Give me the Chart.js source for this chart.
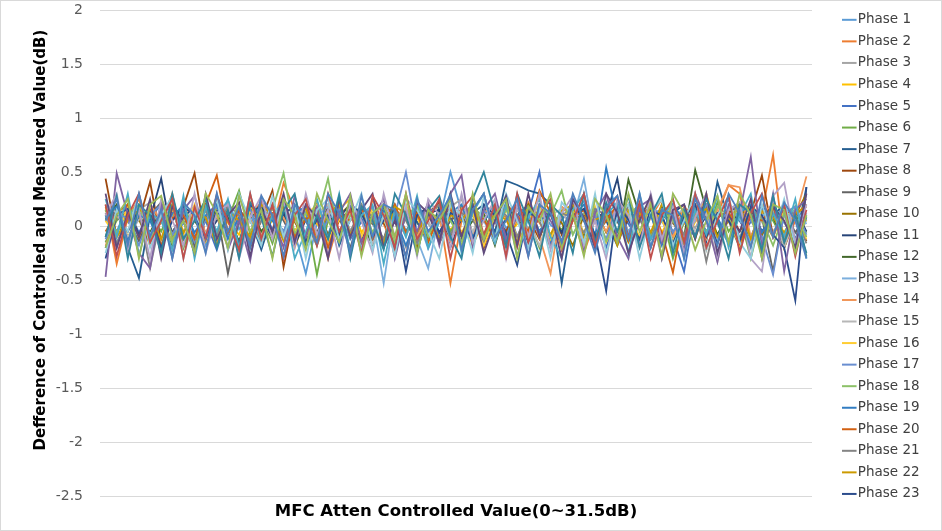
<!DOCTYPE html>
<html>
<head>
<meta charset="utf-8">
<script src="https://cdn.jsdelivr.net/npm/chart.js@4/dist/chart.umd.min.js"></script>
<style>
  html, body { margin: 0; padding: 0; background: #fff; }
  #wrap { width: 942px; height: 531px; }
</style>
</head>
<body>
<div id="wrap"><canvas id="chart" width="942" height="531"></canvas></div>
<script>
// x categories: attenuation steps 0 ~ 31.5 dB
const atten = ['0','0.5','1','1.5','2','2.5','3','3.5','4','4.5','5','5.5','6','6.5','7','7.5',
  '8','8.5','9','9.5','10','10.5','11','11.5','12','12.5','13','13.5','14','14.5','15','15.5',
  '16','16.5','17','17.5','18','18.5','19','19.5','20','20.5','21','21.5','22','22.5','23','23.5',
  '24','24.5','25','25.5','26','26.5','27','27.5','28','28.5','29','29.5','30','30.5','31','31.5'];

const yTicks = [2, 1.5, 1, 0.5, 0, -0.5, -1, -1.5, -2, -2.5];

// difference (dB) per phase
const phase1 = [0.12,-0.05,0.18,-0.12,0.06,0.21,-0.08,0.02,0.15,-0.18,0.09,0.24,-0.03,0.11,-0.14,0.07,
  0.19,-0.06,-0.44,0.03,0.14,-0.09,0.22,0.05,-0.17,0.08,0.16,-0.04,0.1,-0.21,0.04,0.5,
  0.13,-0.11,0.07,0.2,-0.02,0.09,-0.15,0.18,0.01,-0.07,0.12,0.23,-0.1,0.06,0.15,-0.05,
  0.08,0.19,-0.13,0.04,0.17,-0.08,0.1,0.02,-0.16,0.21,0.05,-0.09,0.14,0.03,-0.12,0.09];
const phase2 = [0.2,-0.35,0.08,0.25,-0.1,0.03,0.3,-0.2,0.12,0.05,-0.15,0.18,-0.25,0.1,0.22,-0.05,
  0.4,0.15,-0.12,0.2,-0.3,0.06,0.14,-0.18,0.25,0.02,-0.22,0.1,0.17,-0.08,0.12,-0.53,
  0.05,0.2,-0.1,0.15,0.08,-0.2,0.22,0.03,-0.12,0.18,0.1,-0.25,0.06,0.14,-0.05,0.2,
  -0.15,0.08,0.25,-0.1,0.02,0.16,-0.22,0.1,0.38,0.3,-0.18,0.12,0.66,-0.2,0.05,-0.1];
const phase3 = [-0.15,0.1,-0.05,0.15,0.22,-0.12,0.06,0.18,-0.2,0.08,0.13,-0.06,0.2,-0.15,0.04,0.11,
  -0.08,0.17,0.05,-0.18,0.1,0.2,-0.04,0.09,-0.12,0.15,0.06,-0.2,0.12,0.02,-0.1,0.18,
  0.25,-0.06,0.11,-0.15,0.07,0.19,-0.03,0.13,-0.18,0.05,0.21,-0.08,0.1,-0.14,0.16,0.03,
  -0.1,0.14,0.06,-0.2,0.12,-0.02,0.18,-0.12,0.08,0.1,-0.1,0.15,-0.05,0.1,-0.18,0.06];
const phase4 = [0.05,0.15,-0.1,0.08,-0.18,0.12,0.2,-0.05,0.1,-0.14,0.18,0.03,-0.08,0.22,-0.12,0.06,
  0.14,-0.2,0.09,0.02,-0.1,0.16,0.25,-0.06,0.1,-0.15,0.05,0.18,-0.12,0.08,0.2,-0.04,
  0.12,-0.18,0.06,0.15,-0.1,0.02,0.19,-0.08,0.14,-0.2,0.05,0.11,-0.12,0.18,0.07,-0.15,
  0.1,0.22,-0.06,0.13,-0.16,0.04,0.3,-0.1,0.08,0.16,-0.14,0.1,0.2,-0.08,0.12,0.05];
const phase5 = [0.1,-0.2,0.16,-0.06,0.13,-0.15,0.08,0.2,-0.1,0.05,-0.22,0.12,0.07,-0.14,0.18,-0.03,
  0.1,0.06,-0.16,0.14,-0.08,0.2,-0.12,0.04,0.17,-0.2,0.09,0.13,-0.06,0.2,-0.1,0.05,
  0.15,-0.14,0.08,-0.05,0.22,-0.1,0.12,0.5,-0.15,0.06,0.18,-0.08,0.1,-0.2,0.14,0.02,
  -0.12,0.2,0.07,-0.1,-0.42,0.15,-0.05,0.1,0.25,-0.12,0.04,0.18,-0.08,0.13,-0.15,0.08];
const phase6 = [-0.15,0.05,0.2,-0.1,0.12,-0.05,0.18,-0.2,0.08,0.14,-0.12,0.06,0.33,-0.08,0.1,-0.16,
  0.2,-0.05,0.12,-0.45,0.06,0.15,-0.1,0.2,-0.06,0.1,-0.18,0.14,0.03,-0.12,0.18,-0.05,
  0.1,0.2,-0.14,0.06,-0.08,0.15,0.08,-0.2,0.12,-0.04,0.18,-0.1,0.06,0.14,-0.15,0.09,
  0.2,-0.08,0.12,-0.3,0.05,0.16,-0.1,0.22,-0.05,0.1,-0.3,0.12,0.05,-0.15,0.18,-0.06];
const phase7 = [0.08,0.15,-0.2,-0.48,0.1,0.2,-0.06,0.12,-0.15,0.05,0.18,-0.1,0.14,0.06,-0.22,0.1,
  -0.05,0.16,-0.12,0.08,0.2,-0.18,0.06,0.12,-0.08,0.15,-0.2,0.1,0.04,-0.14,0.18,0.08,
  -0.1,0.12,0.2,-0.06,0.42,0.38,0.33,0.3,0.2,-0.53,0.1,-0.12,0.15,0.05,-0.18,0.12,
  0.08,-0.1,0.2,-0.06,0.12,0.16,-0.14,0.41,0.06,-0.12,0.18,-0.05,0.1,0.2,-0.15,0.36];
const phase8 = [0.44,-0.1,0.12,0.05,0.41,-0.15,0.08,0.18,0.49,-0.12,0.1,-0.05,0.15,-0.2,0.06,0.33,
  -0.38,0.12,-0.08,0.2,-0.12,0.05,0.15,-0.18,0.1,0.03,-0.14,0.18,-0.06,0.12,0.22,-0.1,
  0.06,0.14,-0.2,0.1,-0.05,0.16,0.08,-0.12,0.2,-0.08,0.12,0.05,-0.15,0.18,-0.1,0.06,
  0.15,-0.2,0.1,0.03,-0.12,0.2,0.08,-0.16,0.14,-0.05,0.12,0.47,-0.1,0.16,0.08,-0.14];
const phase9 = [-0.1,0.18,0.05,-0.14,0.1,0.22,-0.06,0.12,-0.18,0.08,0.14,-0.44,0.06,0.16,-0.1,0.2,
  0.05,-0.15,0.12,-0.06,0.18,0.08,-0.2,0.14,0.02,-0.12,0.2,-0.08,0.1,0.15,-0.16,0.06,
  0.12,-0.1,0.14,0.05,-0.18,0.1,0.2,-0.06,0.12,-0.14,0.08,0.16,-0.2,0.1,0.04,-0.12,
  0.18,-0.06,0.12,0.2,-0.15,0.08,0.14,-0.1,0.05,-0.2,0.12,0.08,-0.42,0.15,-0.06,0.1];
const phase10 = [0.15,-0.08,0.2,0.06,-0.16,0.1,0.14,-0.12,0.05,0.2,-0.06,0.12,-0.18,0.08,0.16,-0.1,
  0.12,0.04,-0.14,0.18,-0.08,0.1,0.2,-0.16,0.06,0.14,-0.1,0.08,-0.2,0.15,0.05,-0.12,
  0.18,0.1,-0.08,0.14,-0.15,0.06,0.2,-0.1,0.12,0.03,-0.18,0.1,0.16,-0.06,0.12,-0.14,
  0.08,0.18,-0.1,0.05,0.15,-0.12,0.2,0.06,-0.15,0.1,0.18,-0.08,0.12,-0.2,0.1,0.3];
const phase11 = [-0.2,0.1,-0.05,0.16,0.06,0.44,-0.12,0.08,0.18,-0.1,0.05,0.14,-0.16,0.1,0.2,-0.06,
  0.12,-0.18,0.06,0.15,-0.1,0.08,0.2,-0.14,0.1,0.05,-0.12,0.18,-0.06,0.12,0.15,-0.2,
  0.08,0.14,0.3,-0.1,0.06,0.18,-0.15,0.1,0.12,-0.06,0.2,0.05,-0.14,0.1,0.44,-0.12,
  0.06,0.16,-0.1,0.12,0.2,-0.08,0.1,-0.16,0.14,0.05,-0.12,0.18,0.08,-0.1,0.15,-0.05];
const phase12 = [0.06,0.2,-0.12,0.1,-0.06,0.15,-0.18,0.12,0.05,-0.1,0.2,0.08,-0.14,0.16,-0.05,0.1,
  -0.12,0.18,0.06,-0.16,0.12,-0.08,0.15,0.05,-0.18,0.2,0.1,-0.06,0.14,-0.12,0.08,0.16,
  -0.1,0.05,0.12,-0.18,0.2,0.08,-0.06,0.14,-0.12,0.1,0.16,-0.08,0.05,0.12,-0.16,0.43,
  0.1,-0.12,0.18,0.06,-0.1,0.52,0.15,-0.08,0.12,0.2,-0.14,0.06,0.1,-0.2,0.14,-0.28];
const phase13 = [0.1,-0.15,0.06,0.18,-0.08,0.12,0.2,-0.1,0.05,0.15,-0.18,0.1,0.06,-0.12,0.2,0.08,
  -0.06,0.14,-0.16,0.1,0.18,-0.05,0.12,-0.2,0.08,-0.53,0.15,0.06,-0.12,-0.39,0.1,0.18,
  -0.08,0.12,0.05,-0.16,0.2,0.1,-0.06,0.14,-0.1,0.18,0.06,0.44,-0.14,0.1,0.16,-0.05,
  0.12,-0.18,0.08,0.2,-0.1,0.05,0.14,-0.12,0.18,0.06,-0.15,0.1,0.12,-0.08,0.16,0.02];
const phase14 = [-0.18,0.08,0.15,-0.1,0.2,0.05,-0.14,0.12,0.18,-0.06,0.1,-0.2,0.14,0.06,-0.1,0.18,
  0.08,-0.12,0.2,0.05,-0.16,0.12,-0.06,0.15,0.1,-0.18,0.06,0.2,-0.1,0.14,0.04,-0.14,
  0.16,-0.08,0.12,0.2,-0.12,0.06,0.15,-0.1,-0.44,0.18,0.08,-0.14,0.12,-0.05,0.2,0.1,
  -0.16,0.14,0.05,-0.1,0.18,0.08,-0.12,0.15,0.38,0.36,-0.1,0.12,0.2,-0.14,0.08,0.46];
const phase15 = [0.2,0.12,-0.1,0.06,0.15,-0.16,0.1,-0.05,0.18,0.08,-0.12,0.14,-0.2,0.1,0.05,-0.1,
  0.16,0.06,-0.14,0.12,0.2,-0.08,0.1,0.15,-0.16,0.06,0.12,-0.1,0.18,0.05,-0.15,0.1,
  0.14,-0.06,0.2,0.08,-0.12,0.15,0.05,-0.18,0.1,0.16,-0.08,0.12,0.06,-0.14,0.2,0.1,
  -0.1,0.14,-0.3,0.08,0.16,-0.06,0.12,-0.33,0.1,0.18,-0.12,0.05,0.14,-0.2,0.1,0.2];
const phase16 = [0.05,-0.1,0.18,0.1,-0.14,0.06,0.15,-0.08,0.2,-0.12,0.1,0.05,-0.16,0.14,0.08,-0.1,
  0.18,-0.05,0.1,0.2,-0.14,0.06,0.12,-0.1,0.16,0.05,-0.12,0.18,0.08,-0.15,0.1,0.2,
  -0.06,0.12,-0.18,0.08,0.15,-0.1,0.06,0.2,-0.12,0.1,0.14,-0.06,0.18,-0.15,0.08,0.12,
  -0.1,0.2,0.05,-0.14,0.1,0.16,-0.08,0.12,0.05,-0.18,0.2,0.08,-0.1,0.14,0.06,-0.12];
const phase17 = [-0.12,0.14,0.06,-0.18,0.1,0.2,-0.08,0.12,-0.15,0.05,0.18,-0.1,0.08,0.16,-0.12,0.1,
  -0.05,0.2,0.12,-0.14,0.06,0.15,-0.1,0.08,0.18,-0.16,0.1,0.5,-0.06,0.12,0.2,-0.12,
  0.08,-0.15,0.14,0.05,-0.1,0.18,0.1,-0.08,0.12,-0.18,0.06,0.15,0.1,-0.12,0.2,0.05,
  -0.14,0.1,0.16,-0.06,0.12,-0.1,0.2,0.08,-0.16,0.14,0.05,-0.1,-0.45,0.12,0.18,-0.08];
const phase18 = [0.15,-0.06,0.1,0.2,-0.12,0.08,-0.16,0.14,0.05,0.2,-0.1,0.12,0.06,-0.18,0.1,0.15,
  0.49,-0.08,0.12,0.06,0.44,-0.12,0.1,0.18,-0.06,0.14,-0.15,0.08,0.2,-0.1,0.12,0.05,
  -0.14,0.18,0.08,-0.1,0.15,0.06,-0.12,0.2,0.1,0.33,-0.08,0.12,0.16,-0.14,0.06,0.1,
  0.2,-0.1,0.14,0.05,-0.16,0.12,-0.06,0.18,0.1,-0.12,0.15,0.06,-0.18,0.12,0.08,-0.1];
const phase19 = [0.08,0.18,-0.14,0.1,0.05,-0.2,0.12,0.16,-0.06,0.1,0.2,-0.12,0.08,-0.15,0.14,0.05,
  -0.1,0.12,0.18,-0.08,0.1,-0.16,0.2,0.06,-0.12,0.14,0.08,-0.18,0.1,0.15,-0.06,0.12,
  0.2,-0.1,0.06,0.14,-0.14,0.1,0.18,-0.05,0.12,-0.16,0.08,0.2,-0.1,0.54,0.06,-0.12,
  0.14,0.1,-0.18,0.2,0.05,-0.1,0.16,0.08,-0.14,0.12,0.2,-0.06,0.1,0.15,-0.12,0.08];
const phase20 = [-0.05,0.12,0.2,-0.1,0.15,-0.18,0.08,0.1,-0.12,0.2,0.47,-0.06,0.14,0.05,-0.16,0.12,
  0.18,-0.1,0.06,0.14,-0.2,0.1,0.05,0.18,-0.12,0.08,0.2,-0.06,0.12,-0.15,0.1,0.16,
  -0.08,0.14,0.06,-0.12,0.2,0.1,-0.05,0.33,0.12,-0.18,0.08,0.15,-0.1,0.05,0.2,-0.14,
  0.1,0.16,-0.06,-0.43,0.12,0.2,-0.1,0.08,0.14,-0.16,0.1,0.05,0.18,-0.12,0.1,0.2];
const phase21 = [0.12,-0.16,0.08,0.14,-0.39,0.1,0.18,-0.12,0.06,0.15,-0.08,0.2,0.1,-0.14,0.05,0.18,
  -0.1,0.12,0.06,-0.18,0.15,0.1,-0.06,0.2,0.08,-0.12,0.14,0.05,-0.16,0.1,0.2,-0.08,
  0.12,0.06,-0.14,0.18,0.1,-0.1,0.15,0.05,-0.2,0.12,0.08,-0.06,0.16,0.1,-0.15,0.2,
  0.06,-0.12,0.14,0.1,-0.08,0.18,-0.33,0.12,0.05,-0.14,0.16,0.08,-0.1,0.2,0.1,-0.16];
const phase22 = [0.18,-0.1,0.05,0.15,0.1,-0.12,0.2,-0.06,0.12,0.08,-0.18,0.14,0.05,-0.1,0.2,0.1,
  -0.14,0.06,0.16,-0.1,0.12,0.2,-0.08,0.1,0.05,-0.16,0.18,0.12,-0.06,0.14,-0.12,0.1,
  0.05,0.2,-0.1,0.12,0.06,-0.15,0.18,0.1,-0.08,0.14,0.2,-0.12,0.06,0.1,-0.18,0.15,
  0.12,-0.06,0.2,0.08,-0.14,0.1,0.16,-0.1,0.05,0.2,-0.12,0.14,0.08,-0.06,0.12,0.18];
const phase23 = [-0.3,0.1,0.16,-0.08,0.12,-0.2,0.05,0.18,0.1,-0.12,0.14,0.06,-0.16,0.2,0.08,-0.1,
  0.12,0.18,-0.14,0.06,0.1,-0.08,0.2,0.12,-0.1,0.05,0.15,-0.42,0.1,0.18,-0.06,0.12,
  0.08,-0.14,0.2,0.1,-0.06,-0.36,0.14,0.05,0.12,-0.18,0.1,0.16,-0.08,-0.6,0.2,0.06,
  -0.12,0.14,0.1,-0.16,0.08,0.2,-0.1,0.12,0.05,-0.14,0.18,0.1,-0.08,-0.2,-0.69,0.36];
// weitere Phasen im Plot, deren Legende abgeschnitten ist
const phase24 = [-0.47,0.49,0.1,-0.25,-0.39,0.22,-0.3,0.15,0.28,-0.12,0.3,-0.22,0.05,-0.32,0.25,0.1,
  -0.2,0.28,-0.1,0.18,-0.28,0.12,0.3,-0.15,0.08,0.25,-0.3,0.12,-0.05,0.22,-0.18,0.3,
  0.47,-0.2,0.15,0.3,-0.12,0.1,-0.28,0.2,0.05,-0.15,0.28,-0.22,0.12,0.3,-0.1,-0.3,
  0.18,0.25,-0.15,0.1,-0.22,0.3,0.05,-0.33,0.2,0.12,0.64,-0.2,0.3,-0.42,0.15,0.25];
const phase25 = [0.25,-0.1,0.3,-0.28,0.12,0.05,-0.22,0.28,-0.3,0.18,-0.05,0.25,-0.2,0.3,-0.15,0.1,
  0.22,-0.3,-0.05,0.25,-0.12,0.3,-0.25,0.1,0.2,-0.35,0.15,-0.1,0.28,-0.2,0.05,0.3,
  -0.25,0.12,0.3,-0.15,0.2,-0.28,0.08,0.25,-0.1,-0.3,0.15,0.3,-0.2,0.1,0.22,-0.25,
  0.3,-0.12,0.05,0.25,-0.3,0.15,-0.08,0.28,-0.2,0.1,0.3,-0.25,0.12,-0.1,0.25,-0.3];
const phase26 = [0.1,0.3,-0.22,0.15,-0.3,0.25,0.05,-0.18,0.3,-0.25,0.12,0.2,-0.3,0.08,0.28,-0.12,
  0.25,-0.2,0.3,-0.08,0.15,-0.3,0.22,0.05,-0.25,0.3,-0.1,0.18,-0.28,0.25,0.1,-0.2,
  0.3,-0.15,0.05,0.25,-0.3,0.2,-0.1,0.3,-0.22,0.12,0.28,-0.18,0.05,-0.3,0.25,0.1,
  -0.2,0.3,-0.12,0.18,-0.25,0.08,0.3,-0.28,0.15,0.22,-0.3,-0.42,0.28,0.4,-0.15,0.2];
const phase27 = [-0.25,0.15,-0.05,0.3,-0.2,0.1,0.28,-0.3,0.12,-0.08,0.25,-0.22,0.3,0.05,-0.18,0.28,
  -0.1,0.2,-0.3,0.15,0.25,-0.12,0.05,0.3,-0.22,0.1,-0.28,0.25,0.15,-0.05,-0.3,0.2,
  0.1,-0.25,0.28,-0.12,0.3,0.05,-0.2,0.15,-0.3,0.22,0.1,-0.15,0.3,-0.25,0.08,0.2,
  -0.3,0.12,0.25,-0.18,0.05,0.3,-0.22,0.1,0.28,-0.15,-0.3,0.2,-0.1,0.25,-0.2,0.12];
const phase28 = [0.3,-0.2,0.12,-0.1,0.25,-0.3,0.18,0.05,-0.25,0.3,-0.12,0.1,0.22,-0.28,0.15,-0.05,
  0.3,-0.15,0.2,0.08,-0.3,0.25,-0.1,0.15,0.3,-0.2,0.05,-0.28,0.22,0.12,-0.15,0.3,
  -0.1,0.2,-0.25,0.05,0.28,-0.18,0.3,-0.1,0.15,-0.3,0.25,0.08,-0.2,0.3,0.12,-0.25,
  0.05,0.28,-0.3,0.15,0.2,-0.12,0.3,-0.25,0.1,-0.05,0.25,-0.3,0.18,0.05,-0.2,0.3];
const phase29 = [-0.1,0.28,-0.3,0.2,0.1,-0.25,0.3,-0.12,0.05,0.25,-0.2,0.15,-0.3,0.22,0.08,-0.28,
  0.15,0.3,-0.2,0.1,-0.12,0.28,-0.3,0.18,0.05,-0.22,0.3,0.1,-0.25,0.15,0.28,-0.1,
  -0.3,0.25,0.5,0.12,-0.2,0.3,0.05,-0.28,0.2,0.1,-0.25,0.3,-0.15,0.22,-0.05,0.28,
  -0.2,0.1,0.3,-0.25,0.15,-0.1,0.25,0.05,-0.3,0.2,0.12,-0.22,0.28,-0.15,0.1,-0.25];
const phase30 = [0.2,-0.28,0.1,0.3,-0.15,0.05,0.25,-0.3,0.18,-0.1,0.28,0.05,-0.22,0.3,-0.12,0.2,
  -0.3,0.1,0.25,-0.18,0.3,-0.05,0.15,-0.25,0.28,0.1,-0.2,0.3,-0.12,0.05,0.25,-0.3,
  0.15,0.28,-0.08,0.2,-0.28,0.3,-0.15,0.1,0.25,-0.22,0.05,0.3,-0.18,0.12,0.28,-0.1,
  0.22,-0.3,0.1,0.25,-0.15,0.3,-0.2,0.05,0.28,-0.25,0.12,0.3,-0.1,0.2,-0.28,0.15];
const phase31 = [-0.2,0.1,0.25,-0.3,0.2,0.28,-0.12,0.05,-0.25,0.3,0.12,-0.2,0.28,-0.05,0.15,-0.3,
  0.25,0.1,-0.22,0.3,0.05,-0.15,0.28,-0.28,0.12,0.2,-0.1,0.3,-0.25,0.15,0.05,0.25,
  -0.2,0.3,-0.12,0.1,0.25,-0.3,0.18,0.05,0.3,-0.2,0.12,-0.28,0.25,0.1,-0.15,0.3,
  -0.05,0.2,-0.28,0.3,0.12,-0.22,0.05,0.28,-0.15,0.3,0.1,-0.3,0.2,0.15,-0.25,0.1];
const phase32 = [0.05,0.25,-0.18,0.3,-0.1,0.15,-0.3,0.22,0.1,-0.25,0.3,-0.05,0.18,-0.2,0.28,0.1,
  -0.28,0.2,0.05,-0.15,0.3,0.12,-0.25,0.28,-0.1,0.2,0.15,-0.3,0.25,-0.05,0.1,0.28,
  -0.22,0.15,0.3,-0.1,0.05,0.25,-0.28,0.2,0.12,-0.15,0.3,0.05,-0.25,0.18,0.28,-0.12,
  0.3,-0.2,0.15,0.1,-0.3,0.25,0.05,-0.18,0.3,0.12,-0.2,0.28,-0.1,0.22,0.05,-0.3];

const phases = [phase1, phase2, phase3, phase4, phase5, phase6, phase7, phase8, phase9, phase10,
  phase11, phase12, phase13, phase14, phase15, phase16, phase17, phase18, phase19, phase20,
  phase21, phase22, phase23, phase24, phase25, phase26, phase27, phase28, phase29, phase30,
  phase31, phase32];
const legendCount = 23; // nur Phase 1–23 in der Legende sichtbar

// Excel-Palette
const colors = ['#5B9BD5','#ED7D31','#A5A5A5','#FFC000','#4472C4','#70AD47',
  '#255E91','#9E480E','#636363','#997300','#264478','#43682B',
  '#7CAFDD','#F1975A','#B7B7B7','#FFCD33','#698ED0','#8CC168',
  '#327DC2','#D26012','#848484','#CC9A00','#2B4C8C',
  '#8064A2','#4BACC6','#B3A2C7','#93CDDD','#604A7B','#31859C','#C0504D','#9BBB59','#4F81BD'];

// kurzer Strich als Legendensymbol, direkt vor dem Text
function legendLine(color) {
  const c = document.createElement('canvas');
  c.width = 40; c.height = 4;
  const g = c.getContext('2d');
  g.strokeStyle = color;
  g.lineWidth = 2;
  g.beginPath(); g.moveTo(11, 2); g.lineTo(26, 2); g.stroke();
  return c;
}

const datasets = phases.map((data, i) => ({
  label: `Phase ${i + 1}`,
  data,
  borderColor: colors[i],
  backgroundColor: colors[i],
  borderWidth: 1.8,
  pointRadius: 0,
  pointStyle: legendLine(colors[i]),
  tension: 0,
  fill: false,
  order: phases.length - i // spätere Phasen oben, wie in Excel
}));

// Legende: feste Breite, etwas vom Plot abrücken
const legendPos = {
  id: 'legendPos',
  afterInit(chart) {
    const lg = chart.legend;
    const fit = lg.fit;
    lg.fit = function () { fit.call(this); this.width = 130; };
  },
  afterLayout(chart) {
    const lg = chart.legend;
    lg.left += 30; lg.right += 30;
    lg.top -= 5; lg.bottom -= 5;
  }
};

// grauer Rahmen um die Grafik
const frame = {
  id: 'frame',
  afterDraw(chart) {
    const ctx = chart.ctx;
    ctx.save();
    ctx.strokeStyle = '#d9d9d9';
    ctx.lineWidth = 1;
    ctx.strokeRect(0.5, 0.5, chart.width - 1, chart.height - 1);
    ctx.restore();
  }
};

new Chart(document.getElementById('chart'), {
  type: 'line',
  data: { labels: atten, datasets },
  plugins: [legendPos, frame],
  options: {
    responsive: false,
    animation: false,
    layout: { padding: { top: 10, right: 0, bottom: 0, left: 0 } },
    plugins: {
      legend: {
        position: 'right',
        align: 'start',
        labels: {
          usePointStyle: true,
          pointStyleWidth: 1,
          padding: 8.05,
          color: '#404040',
          font: { family: 'DejaVu Sans', size: 13.5 },
          filter: item => item.datasetIndex < legendCount,
          sort: (a, b) => a.datasetIndex - b.datasetIndex
        }
      },
      tooltip: { enabled: false }
    },
    scales: {
      x: {
        offset: true,
        grid: { display: false, drawTicks: false },
        border: { display: false },
        ticks: { display: false },
        title: {
          display: true,
          text: 'MFC Atten Controlled Value(0~31.5dB)',
          color: '#000',
          font: { family: 'DejaVu Sans', size: 16.5, weight: 'bold' },
          padding: { top: 6, bottom: 9 }
        }
      },
      y: {
        min: -2.5,
        max: 2,
        afterFit(scale) {
          scale.width = 100;
          scale.paddingTop = 0;
          scale.paddingBottom = 0;
        },
        afterBuildTicks(scale) { scale.ticks = yTicks.map(v => ({ value: v })); },
        grid: { color: '#d9d9d9', drawTicks: false },
        border: { display: false },
        ticks: {
          padding: 17,
          color: '#595959',
          font: { family: 'DejaVu Sans', size: 14 },
          callback: v => String(v)
        },
        title: {
          display: true,
          // führende Leerzeichen rücken den Titel wie im Original etwas nach oben
          text: '     Defference of Controlled and Measured Value(dB)',
          color: '#000',
          font: { family: 'DejaVu Sans', size: 15, weight: 'bold' },
          padding: { top: 32, bottom: 4 }
        }
      }
    }
  }
});
</script>
</body>
</html>
